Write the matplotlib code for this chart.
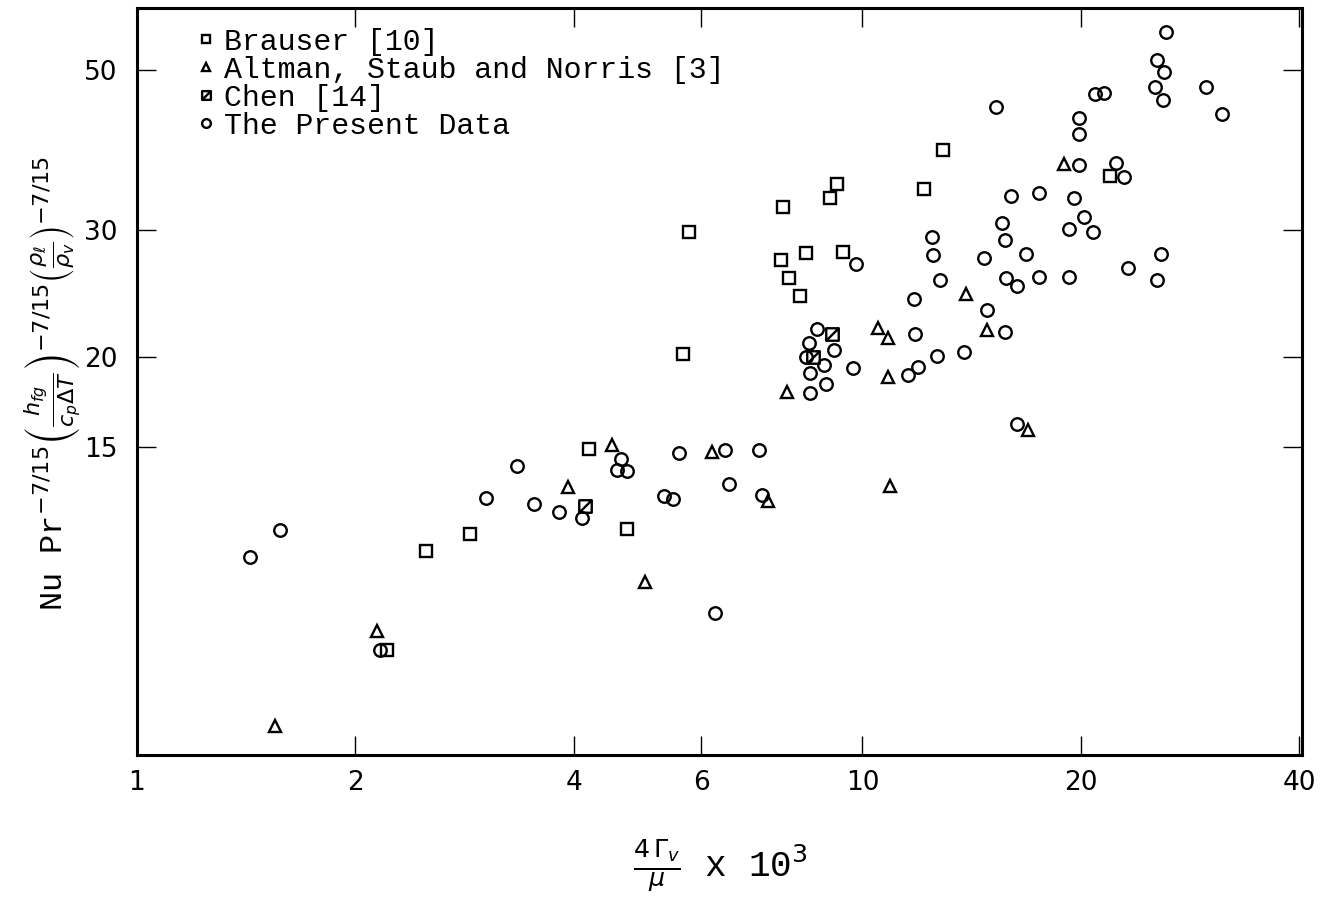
import numpy as np
import matplotlib
matplotlib.use("Agg")
import matplotlib.pyplot as plt
from matplotlib.path import Path

# valores (x = 4Gamma/mu x 10^3)
present_x = [1.43, 1.575, 2.16, 3.03, 3.34, 3.53, 3.82, 4.11, 4.65, 4.59, 4.74,
             5.32, 5.49, 5.59, 6.27, 6.47, 6.54, 7.21, 7.26,
             9.81, 8.67, 8.45, 9.15, 8.35, 8.86, 8.48, 9.69, 8.92, 8.48,
             11.8, 11.76, 12.45, 12.49, 12.81, 14.69, 14.87, 15.7, 13.82, 12.65,
             11.91, 11.57, 16.31, 16.0, 17.49, 19.54, 20.17, 15.55, 19.24, 20.76,
             15.7, 16.78, 25.76, 23.2, 15.75, 16.31, 17.49, 19.24, 25.44,
             19.86, 22.34, 22.9, 19.86, 19.86, 15.3, 20.89, 21.5,
             26.18, 25.44, 26.02, 25.28, 25.93, 29.72, 31.27]
present_y = [10.57, 11.52, 7.86, 12.76, 14.13, 12.52, 12.2, 11.97, 14.44, 13.95, 13.9,
             12.84, 12.72, 14.72, 8.84, 14.87, 13.34, 14.87, 12.88,
             26.9, 21.87, 20.91, 20.45, 20.0, 19.49, 19.0, 19.31, 18.35, 17.83,
             21.52, 24.06, 29.38, 27.69, 25.57, 27.42, 23.23, 21.66, 20.32, 20.06,
             19.37, 18.88, 16.15, 33.42, 33.74, 33.2, 31.29, 30.67, 30.09, 29.8,
             29.04, 27.78, 27.78, 26.57, 25.73, 25.08, 25.81, 25.81, 25.57,
             36.89, 37.13, 35.5, 42.85, 40.73, 44.4, 46.28, 46.43,
             56.55, 51.58, 49.62, 47.45, 45.4, 47.45, 43.42]

brauser_x = [2.21, 2.50, 2.88, 4.20, 4.74, 5.66, 5.77, 7.78, 9.03, 9.21,
             7.71, 8.37, 9.41, 7.93, 8.19, 12.93, 12.14, 21.91]
brauser_y = [7.86, 10.77, 11.37, 14.92, 11.56, 20.19, 29.8, 32.28, 33.2, 34.72,
             27.25, 27.86, 27.95, 25.73, 24.3, 38.7, 34.18, 35.62]

chen_x = [4.14, 9.09, 8.56]
chen_y = [12.44, 21.52, 20.0]

altman_x = [1.55, 2.14, 3.93, 4.52, 5.02, 6.21, 7.42, 7.86, 10.49, 10.83,
            10.83, 10.93, 13.91, 14.87, 16.89, 18.93]
altman_y = [6.17, 8.35, 13.21, 15.11, 9.76, 14.77, 12.64, 17.88, 21.94, 21.25,
            18.76, 13.25, 24.45, 21.8, 15.85, 37.0]

x_ticks = [1, 2, 4, 6, 10, 20, 40]
y_ticks = [15, 20, 30, 50]

labels = ["Brauser [10]", "Altman, Staub and Norris [3]", "Chen [14]", "The Present Data"]

# marcador de Chen: cuadrado con diagonal
chen_marker = Path([(-1, -1), (1, -1), (1, 1), (-1, 1), (-1, -1), (-1, -1), (1, 1)],
                   [Path.MOVETO, Path.LINETO, Path.LINETO, Path.LINETO, Path.CLOSEPOLY,
                    Path.MOVETO, Path.LINETO])

fig = plt.figure(figsize=(13.29, 9.24), dpi=100)
ax = fig.add_axes([0.103, 0.183, 0.877, 0.808])

kw = dict(ls="none", mfc="none", mec="black", mew=1.7, ms=9)
ax.plot(brauser_x, brauser_y, marker="s", label=labels[0], **kw)
ax.plot(altman_x, altman_y, marker="^", label=labels[1], **kw)
ax.plot(chen_x, chen_y, marker=chen_marker, label=labels[2], **kw)
ax.plot(present_x, present_y, marker="o", label=labels[3], **kw)

ax.set_xscale("log")
ax.set_yscale("log")
ax.set_xlim(1, 40.4)
ax.set_ylim(5.62, 60.9)

ax.set_xticks(x_ticks)
ax.set_xticklabels([str(t) for t in x_ticks])
ax.set_yticks(y_ticks)
ax.set_yticklabels([str(t) for t in y_ticks])
ax.minorticks_off()
ax.tick_params(axis="both", which="major", direction="in", length=14, width=1,
               top=True, right=True, labelsize=19)
ax.tick_params(axis="x", pad=11)
ax.tick_params(axis="y", pad=14)
for s in ax.spines.values():
    s.set_linewidth(2.2)

leg = ax.legend(loc="upper left", bbox_to_anchor=(0.035, 1.0), frameon=False,
                prop={"family": "Liberation Mono", "size": 21.5},
                markerscale=0.7, handlelength=0.6, handletextpad=0.3,
                labelspacing=0.0, borderaxespad=0.25)

fig.text(0.542, 0.063, r"$\frac{4\,\Gamma_v}{\mu}$ x 10$^3$", ha="center", va="center",
         fontsize=26, family="Liberation Mono")
fig.text(0.040, 0.585,
         r"Nu Pr$^{-7/15}$$\left(\frac{h_{fg}}{c_p\Delta T}\right)^{-7/15}$$\left(\frac{\rho_\ell}{\rho_v}\right)^{-7/15}$",
         rotation=90, ha="center", va="center", fontsize=23, family="Liberation Mono")

fig.savefig("out.png", dpi=100)
